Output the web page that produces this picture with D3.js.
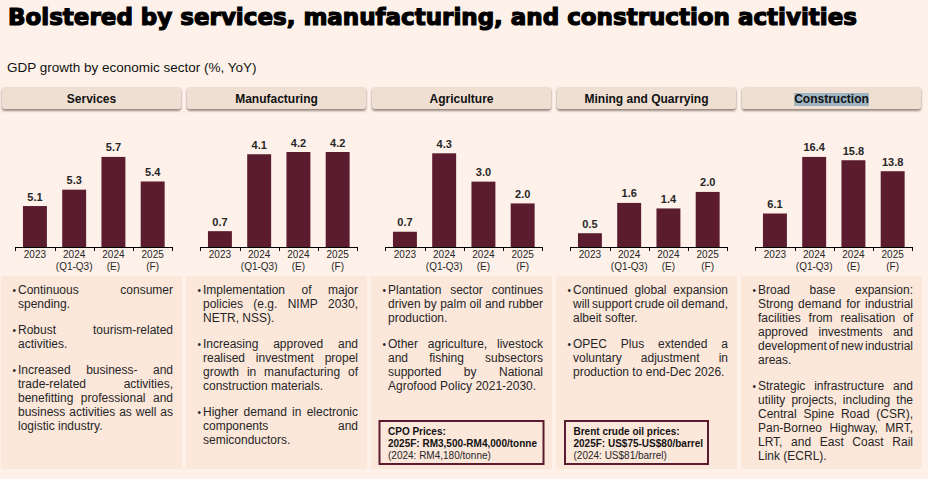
<!DOCTYPE html>
<html><head><meta charset="utf-8">
<script src="https://cdn.jsdelivr.net/npm/d3@7"></script>
<style>
html,body{margin:0;padding:0;background:#fdf1ea;}
svg{display:block;font-family:"Liberation Sans",Arial,sans-serif;}
</style></head>
<body>
<svg id="chart" width="928" height="479"></svg>
<script>
// ---------- DATA ----------
const title = "Bolstered by services, manufacturing, and construction activities";
const subtitle = "GDP growth by economic sector (%, YoY)";
const sectors = ["Services", "Manufacturing", "Agriculture", "Mining and Quarrying", "Construction"];
const periodLine1 = ["2023", "2024", "2024", "2025"];
const periodLine2 = ["", "(Q1-Q3)", "(E)", "(F)"];
const servicesValues = [5.1, 5.3, 5.7, 5.4];
const manufacturingValues = [0.7, 4.1, 4.2, 4.2];
const agricultureValues = [0.7, 4.3, 3.0, 2.0];
const miningValues = [0.5, 1.6, 1.4, 2.0];
const constructionValues = [6.1, 16.4, 15.8, 13.8];
const valueLabels = [
  ["5.1", "5.3", "5.7", "5.4"],
  ["0.7", "4.1", "4.2", "4.2"],
  ["0.7", "4.3", "3.0", "2.0"],
  ["0.5", "1.6", "1.4", "2.0"],
  ["6.1", "16.4", "15.8", "13.8"]
];
// axis value ranges of each panel (min, max)
const axisMin = [4.6, 0, 0, 0, 0];
const axisMax = [5.76, 4.2, 4.36, 3.45, 17.3];

// commentary: each paragraph is a list of lines
const servicesNotes = [
  ["Continuous consumer", "spending."],
  ["Robust tourism-related", "activities."],
  ["Increased business- and", "trade-related activities,", "benefitting professional and", "business activities as well as", "logistic industry."]
];
const manufacturingNotes = [
  ["Implementation of major", "policies (e.g. NIMP 2030,", "NETR, NSS)."],
  ["Increasing approved and", "realised investment propel", "growth in manufacturing of", "construction materials."],
  ["Higher demand in electronic", "components and", "semiconductors."]
];
const agricultureNotes = [
  ["Plantation sector continues", "driven by palm oil and rubber", "production."],
  ["Other agriculture, livestock", "and fishing subsectors", "supported by National", "Agrofood Policy 2021-2030."]
];
const miningNotes = [
  ["Continued global expansion", "will support crude oil demand,", "albeit softer."],
  ["OPEC Plus extended a", "voluntary adjustment in", "production to end-Dec 2026."]
];
const constructionNotes = [
  ["Broad base expansion:", "Strong demand for industrial", "facilities from realisation of", "approved investments and", "development of new industrial", "areas."],
  ["Strategic infrastructure and", "utility projects, including the", "Central Spine Road (CSR),", "Pan-Borneo Highway, MRT,", "LRT, and East Coast Rail", "Link (ECRL)."]
];
const priceBoxTitles = [null, null, "CPO Prices:", "Brent crude oil prices:", null];
const priceBoxForecasts = [null, null, "2025F: RM3,500-RM4,000/tonne", "2025F: US$75-US$80/barrel", null];
const priceBoxPrevious = [null, null, "(2024: RM4,180/tonne)", "(2024: US$81/barrel)", null];

const allValues = [servicesValues, manufacturingValues, agricultureValues, miningValues, constructionValues];
const allNotes = [servicesNotes, manufacturingNotes, agricultureNotes, miningNotes, constructionNotes];

// ---------- STYLE / LAYOUT ----------
const W = 928, H = 479;
const bg = "#fdf1ea", noteBg = "#fce7db", headerBg = "#efdfd2", barColor = "#5b1c30", textColor = "#262626";
const panelStep = 185;
const plotTop = 152, plotBottom = 247;
const axisX0 = 15.3, axisW = 157;

const svg = d3.select("#chart");
svg.append("rect").attr("width", W).attr("height", H).attr("fill", bg);

// title
svg.append("text").attr("x", 8).attr("y", 25)
  .attr("font-family", "'DejaVu Sans', sans-serif").attr("font-weight", 900)
  .attr("font-size", 22.5).attr("fill", "#000")
  .attr("stroke", "#000").attr("stroke-width", 1.2)
  .attr("textLength", 849).attr("lengthAdjust", "spacingAndGlyphs")
  .text(title);

svg.append("text").attr("x", 7).attr("y", 72)
  .attr("font-size", 13.5).attr("fill", "#111").text(subtitle);

// shadow filter
const defs = svg.append("defs");
const f = defs.append("filter").attr("id", "sh").attr("x", "-5%").attr("y", "-20%").attr("width", "110%").attr("height", "160%");
f.append("feDropShadow").attr("dx", 0).attr("dy", 1.8).attr("stdDeviation", 1).attr("flood-color", "#7a6a60").attr("flood-opacity", 0.85);

// measuring helper
const measure = svg.append("text").attr("font-size", 12).attr("visibility", "hidden");
function wordWidth(w) { measure.text(w); return measure.node().getComputedTextLength(); }

sectors.forEach((name, i) => {
  const px = i * panelStep;
  const g = svg.append("g").attr("transform", `translate(${px},0)`);

  // header button
  g.append("rect").attr("x", 2).attr("y", 87).attr("width", 179).attr("height", 22).attr("rx", 3)
    .attr("fill", headerBg).attr("filter", "url(#sh)");
  const ht = g.append("text").attr("x", 91.5).attr("y", 103).attr("text-anchor", "middle")
    .attr("font-size", 12).attr("font-weight", "bold").attr("fill", "#111").text(name);
  if (name === "Construction") {
    const bb = ht.node().getBBox();
    g.append("rect").attr("x", bb.x).attr("y", 93).attr("width", bb.width).attr("height", 13)
      .attr("fill", "#9fb5c2");
    ht.raise();
  }

  // bar chart
  const vals = allValues[i];
  const x = d3.scaleBand().domain(d3.range(vals.length)).range([axisX0, axisX0 + axisW])
    .paddingInner(0.39).paddingOuter(0.195);
  const y = d3.scaleLinear().domain([axisMin[i], axisMax[i]]).range([plotBottom, plotTop]);

  g.selectAll(".bar").data(vals).join("rect")
    .attr("x", (d, k) => x(k)).attr("width", x.bandwidth())
    .attr("y", d => y(d)).attr("height", d => plotBottom - y(d))
    .attr("fill", barColor);

  g.selectAll(".vl").data(vals).join("text")
    .attr("x", (d, k) => x(k) + x.bandwidth() / 2).attr("y", d => y(d) - 5.5)
    .attr("text-anchor", "middle").attr("font-size", 11).attr("font-weight", "bold").attr("fill", textColor)
    .text((d, k) => valueLabels[i][k]);

  // axis with boundary ticks
  const ax = g.append("g").attr("stroke", "#000").attr("stroke-width", 1);
  ax.append("line").attr("x1", axisX0).attr("x2", axisX0 + axisW).attr("y1", plotBottom + 0.5).attr("y2", plotBottom + 0.5);
  d3.range(vals.length + 1).forEach(k => {
    const tx = Math.round(axisX0 + k * (axisW / vals.length)) + 0.5;
    ax.append("line").attr("x1", tx).attr("x2", tx).attr("y1", plotBottom).attr("y2", plotBottom + 4);
  });
  g.selectAll(".xl1").data(periodLine1).join("text")
    .attr("x", (d, k) => x(k) + x.bandwidth() / 2).attr("y", 258)
    .attr("text-anchor", "middle").attr("font-size", 10).attr("fill", textColor).text(d => d);
  g.selectAll(".xl2").data(periodLine2).join("text")
    .attr("x", (d, k) => x(k) + x.bandwidth() / 2).attr("y", 269.5)
    .attr("text-anchor", "middle").attr("font-size", 10).attr("fill", textColor).text(d => d);

  // notes box
  g.append("rect").attr("x", 1).attr("y", 276).attr("width", 181).attr("height", 193).attr("fill", noteBg);
  const tx0 = 18, tx1 = 173;
  let ly = 294;
  allNotes[i].forEach(par => {
    g.append("text").attr("x", 12.5).attr("y", ly - 0.5).attr("font-size", 10).attr("fill", textColor).text("•");
    par.forEach((line, li) => {
      const words = line.split(" ");
      const t = g.append("text").attr("y", ly).attr("font-size", 12).attr("fill", textColor);
      const last = li === par.length - 1;
      if (last || words.length === 1) {
        t.attr("x", tx0).text(line);
      } else {
        const ws = words.map(wordWidth);
        const gap = (tx1 - tx0 - d3.sum(ws)) / (words.length - 1);
        let cx = tx0;
        words.forEach((w, wi) => {
          t.append("tspan").attr("x", cx).text(w);
          cx += ws[wi] + gap;
        });
      }
      ly += 14;
    });
    ly += 12;
  });

  // price box
  if (priceBoxTitles[i]) {
    const bw = i === 2 ? 164 : 143;
    const bx = i === 2 ? 9.5 : 10;
    g.append("rect").attr("x", bx).attr("y", 421).attr("width", bw).attr("height", 43)
      .attr("fill", "none").attr("stroke", barColor).attr("stroke-width", 2);
    g.append("text").attr("x", bx + 8.5).attr("y", 434.5).attr("font-size", 10).attr("font-weight", "bold").attr("fill", "#111").text(priceBoxTitles[i]);
    g.append("text").attr("x", bx + 8.5).attr("y", 446.5).attr("font-size", 10).attr("font-weight", "bold").attr("fill", "#111").text(priceBoxForecasts[i]);
    g.append("text").attr("x", bx + 8.5).attr("y", 458.5).attr("font-size", 10).attr("fill", textColor).text(priceBoxPrevious[i]);
  }
});
measure.remove();
</script>
</body></html>
